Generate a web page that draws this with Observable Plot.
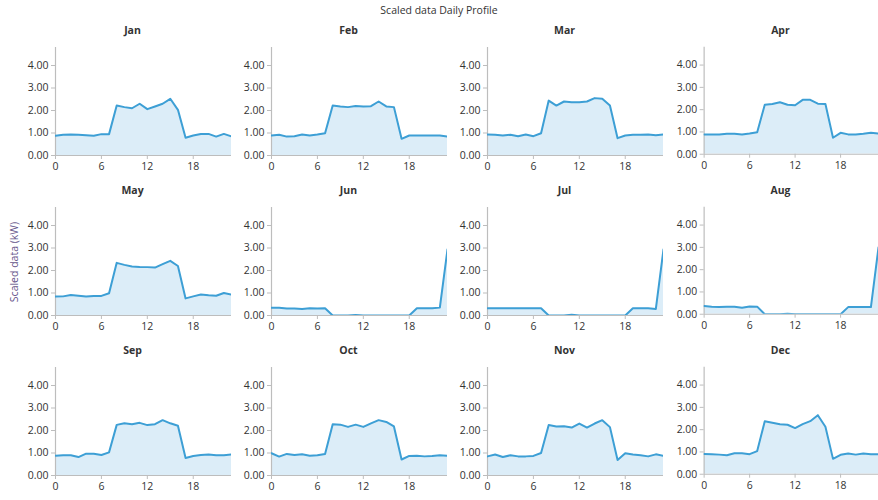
<!DOCTYPE html>
<html>
<head>
<meta charset="utf-8">
<script src="https://cdn.jsdelivr.net/npm/d3@7"></script>
<script src="https://cdn.jsdelivr.net/npm/@observablehq/plot@0.6"></script>
<style>
  html, body { margin: 0; padding: 0; background: #fff; }
  body { width: 878px; height: 500px; overflow: hidden; position: relative; font-family: "Open Sans", "Noto Sans", sans-serif; }
  .panel { position: absolute; }
  #title { position: absolute; top: 3px; left: 0; width: 878px; text-align: center; font-size: 10.5px; color: #333; }
  #ylabel { position: absolute; left: 14px; top: 262px; transform: translate(-50%, -50%) rotate(-90deg); font-size: 10.5px; color: #65548a; white-space: nowrap; }
</style>
</head>
<body>
<div id="title">Scaled data Daily Profile</div>
<div id="ylabel">Scaled data (kW)</div>
<script>
const hours = d3.range(24);
const months = ["Jan","Feb","Mar","Apr","May","Jun","Jul","Aug","Sep","Oct","Nov","Dec"];
const xTicks = [0, 6, 12, 18];
const yTicks = [0, 1, 2, 3, 4];

const jan = [0.88,0.92,0.93,0.92,0.90,0.88,0.95,0.95,2.22,2.15,2.10,2.30,2.06,2.18,2.30,2.52,2.03,0.79,0.89,0.96,0.96,0.84,0.96,0.85];
const feb = [0.89,0.92,0.84,0.86,0.93,0.89,0.93,0.99,2.22,2.18,2.15,2.20,2.18,2.19,2.40,2.18,2.15,0.74,0.89,0.89,0.89,0.89,0.89,0.84];
const mar = [0.93,0.92,0.89,0.92,0.86,0.93,0.86,0.99,2.44,2.22,2.40,2.37,2.37,2.40,2.55,2.52,2.22,0.77,0.89,0.92,0.92,0.93,0.90,0.93];
const apr = [0.89,0.89,0.89,0.92,0.92,0.89,0.93,0.99,2.22,2.25,2.33,2.22,2.20,2.44,2.44,2.27,2.25,0.74,0.96,0.89,0.89,0.92,0.96,0.93];
const may = [0.84,0.85,0.91,0.88,0.84,0.87,0.87,0.99,2.34,2.25,2.18,2.16,2.15,2.13,2.28,2.43,2.20,0.76,0.85,0.93,0.90,0.88,1.00,0.93];
const jun = [0.34,0.34,0.31,0.31,0.29,0.32,0.31,0.32,0.00,0.00,0.00,0.02,0.00,0.00,0.00,0.00,0.00,0.00,0.00,0.32,0.32,0.32,0.35,2.94];
const jul = [0.32,0.32,0.32,0.32,0.32,0.32,0.32,0.32,0.00,0.00,0.00,0.03,0.00,0.00,0.00,0.00,0.00,0.00,0.00,0.32,0.32,0.32,0.29,2.94];
const aug = [0.37,0.34,0.32,0.34,0.34,0.29,0.35,0.34,0.00,0.00,0.00,0.02,0.00,0.00,0.00,0.00,0.00,0.00,0.00,0.32,0.32,0.32,0.32,3.00];
const sep = [0.88,0.90,0.90,0.82,0.97,0.97,0.91,1.03,2.25,2.32,2.28,2.34,2.24,2.28,2.46,2.32,2.21,0.78,0.87,0.91,0.93,0.90,0.90,0.93];
const oct = [0.99,0.84,0.96,0.91,0.94,0.88,0.90,0.96,2.28,2.26,2.16,2.26,2.16,2.32,2.46,2.38,2.18,0.71,0.87,0.88,0.85,0.87,0.90,0.88];
const nov = [0.85,0.93,0.82,0.90,0.85,0.85,0.87,1.00,2.24,2.18,2.19,2.13,2.31,2.13,2.31,2.46,2.15,0.69,0.99,0.93,0.90,0.85,0.94,0.87];
const dec = [0.91,0.90,0.88,0.85,0.94,0.94,0.90,1.04,2.38,2.31,2.24,2.22,2.07,2.25,2.38,2.65,2.13,0.69,0.87,0.93,0.88,0.93,0.90,0.90];

const series = [jan, feb, mar, apr, may, jun, jul, aug, sep, oct, nov, dec];

const colLefts = [15, 231, 447, 664];
const rowTops = [20, 180, 340];
const lineColor = "#3d9fd5";
const areaColor = "#dcedf8";
const axisColor = "#bdbdbd";

months.forEach((m, i) => {
  const data = hours.map((h, k) => ({h, v: series[i][k]}));
  const chart = Plot.plot({
    width: 216,
    height: 160,
    marginLeft: 40,
    marginRight: 0,
    marginTop: 27,
    marginBottom: 25,
    style: {fontFamily: "'Open Sans', 'Noto Sans', sans-serif", fontSize: "10.5px", color: "#333", background: "transparent", overflow: "visible"},
    x: {domain: [0, 23], label: null},
    y: {domain: [0, 4.8], label: null},
    marks: [
      Plot.areaY(data, {x: "h", y: "v", fill: areaColor, clip: true}),
      Plot.ruleX([0], {stroke: axisColor, strokeWidth: 1.2}),
      Plot.ruleY([0], {stroke: axisColor, strokeWidth: 1.2}),
      Plot.lineY(data, {x: "h", y: "v", stroke: lineColor, strokeWidth: 2, clip: true}),
      Plot.axisX({ticks: xTicks, tickSize: 4, tickPadding: 3, stroke: axisColor, fill: "#333", label: null}),
      Plot.axisY({ticks: yTicks, tickSize: 4, tickPadding: 3, tickFormat: d3.format(".2f"), stroke: axisColor, fill: "#333", label: null}),
      Plot.text([m], {frameAnchor: "top", dy: -21, dx: -11, fontWeight: "bold", fill: "#333", fontSize: 10.5})
    ]
  });
  const div = document.createElement("div");
  div.className = "panel";
  div.style.left = colLefts[i % 4] + "px";
  div.style.top = rowTops[Math.floor(i / 4)] + "px";
  div.appendChild(chart);
  document.body.appendChild(div);
});
</script>
</body>
</html>
